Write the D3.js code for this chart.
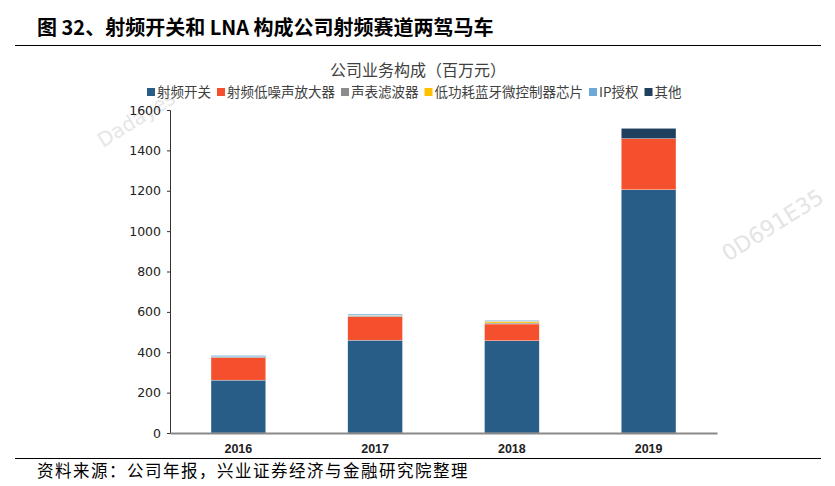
<!DOCTYPE html>
<html lang="zh">
<head>
<meta charset="UTF-8">
<title>公司业务构成</title>
<script src="https://cdnjs.cloudflare.com/ajax/libs/d3/7.8.5/d3.min.js"></script>
<style>
  body { margin: 0; background: #fff; }
  svg { display: block; font-family: "Noto Sans CJK SC", "Noto Sans", sans-serif; }
</style>
</head>
<body>
<div id="chart"></div>
<script>
// données (百万元)
const years = ["2016", "2017", "2018", "2019"];
const seriesNames = ["射频开关", "射频低噪声放大器", "声表滤波器", "低功耗蓝牙微控制器芯片", "IP授权", "其他"];
const rfSwitch = [262, 460, 457, 1205];
const lna = [111, 116, 83, 253];
const saw = [5, 5, 5, 0];
const ble = [0, 2, 8, 0];
const ipLicense = [6, 6, 5, 0];
const other = [0, 0, 0, 51];
const yTicks = [0, 200, 400, 600, 800, 1000, 1200, 1400, 1600];
const colors = ["#275d86", "#f5502d", "#8c8c8c", "#ffc000", "#6ea8d8", "#1e3f5d"];

const W = 835, H = 486;
const m = { left: 170, right: 118, top: 110, bottom: 52 };

const svg = d3.select("#chart").append("svg")
    .attr("width", W).attr("height", H);

// table pour d3.stack
const rows = years.map((y, i) => ({
    year: y,
    "射频开关": rfSwitch[i],
    "射频低噪声放大器": lna[i],
    "声表滤波器": saw[i],
    "低功耗蓝牙微控制器芯片": ble[i],
    "IP授权": ipLicense[i],
    "其他": other[i]
}));
const stacked = d3.stack().keys(seriesNames)(rows);

const x = d3.scaleBand().domain(years).range([m.left, W - m.right]).paddingInner(0.6).paddingOuter(0.3);
const y = d3.scaleLinear().domain([0, 1600]).range([H - m.bottom - 1, m.top]);

// titre
svg.append("text").attr("x", 37).attr("y", 35)
    .attr("font-size", 20).attr("font-weight", "bold").attr("fill", "#000")
    .text("图 32、射频开关和 LNA 构成公司射频赛道两驾马车");
svg.append("line").attr("x1", 15).attr("x2", 821).attr("y1", 45.5).attr("y2", 45.5)
    .attr("stroke", "#000").attr("stroke-width", 1.2);

// filigranes
svg.append("text").attr("transform", "translate(728,262) rotate(-32)")
    .attr("font-size", 22).attr("fill", "#e4e4e4").attr("font-family", "DejaVu Sans")
    .text("0D691E35");
svg.append("text").attr("transform", "translate(103,148) rotate(-32)")
    .attr("font-size", 20).attr("fill", "#e6e6e6").attr("font-family", "DejaVu Sans")
    .text("Dadayes");

// titre du graphique
svg.append("text").attr("x", 418).attr("y", 76).attr("text-anchor", "middle")
    .attr("font-size", 16).attr("fill", "#404040")
    .text("公司业务构成（百万元）");

// légende
const legend = svg.append("g").attr("transform", "translate(147,92)");
let lx = 0;
seriesNames.forEach((name, i) => {
    const g = legend.append("g").attr("transform", `translate(${lx},0)`);
    g.append("rect").attr("x", 0).attr("y", -4).attr("width", 8).attr("height", 8).attr("fill", colors[i]);
    const t = g.append("text").attr("x", 10).attr("y", 0).attr("dy", "0.36em")
        .attr("font-size", 13.5).attr("fill", "#404040").text(name);
    lx += 10 + t.node().getComputedTextLength() + 6;
});

// barres
svg.append("g").selectAll("g").data(stacked).join("g")
    .attr("fill", (d, i) => colors[i])
    .selectAll("rect").data(d => d).join("rect")
    .attr("x", d => x(d.data.year))
    .attr("width", x.bandwidth())
    .attr("y", d => y(d[1]))
    .attr("height", d => y(d[0]) - y(d[1]))
    .attr("stroke", "#ffffff").attr("stroke-width", 0.3);

// axe y
const yAxis = svg.append("g").attr("transform", `translate(${m.left},0)`)
    .call(d3.axisLeft(y).tickValues(yTicks).tickSize(3).tickPadding(6).tickFormat(d3.format("d")));
yAxis.select(".domain").attr("stroke", "#333");
yAxis.selectAll(".tick line").attr("stroke", "#333");
yAxis.selectAll("text").attr("font-size", 12.5).attr("fill", "#222")
    .attr("font-family", "DejaVu Sans, sans-serif");

// axe x
const xAxis = svg.append("g").attr("transform", `translate(0,${y(0)})`)
    .call(d3.axisBottom(x).tickSize(0).tickPadding(11));
xAxis.select(".domain").attr("stroke", "#898989").attr("stroke-width", 2);
xAxis.selectAll("text").attr("font-size", 12.5).attr("fill", "#222")
    .attr("font-family", "Liberation Sans Narrow, Liberation Sans, sans-serif").attr("font-weight", "bold");

// source
svg.append("line").attr("x1", 15).attr("x2", 821).attr("y1", 458.5).attr("y2", 458.5)
    .attr("stroke", "#000").attr("stroke-width", 1);
svg.append("text").attr("x", 37).attr("y", 477).attr("font-size", 16.5).attr("letter-spacing", 1.5).attr("fill", "#000")
    .text("资料来源：公司年报，兴业证券经济与金融研究院整理");
</script>
</body>
</html>
